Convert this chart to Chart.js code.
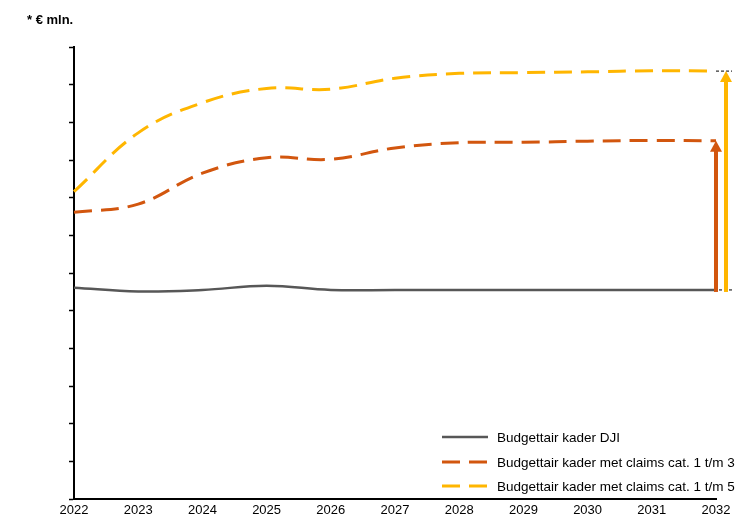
<!DOCTYPE html>
<html>
<head>
<meta charset="utf-8">
<script src="https://cdn.jsdelivr.net/npm/chart.js@4.4.1/dist/chart.umd.min.js"></script>
<style>
  html, body { margin: 0; padding: 0; background: #fff; }
  #wrap { position: relative; width: 740px; height: 516px; }
</style>
</head>
<body>
<div id="wrap"><canvas id="budgetChart" width="740" height="516"></canvas></div>
<script>
// Gegevens (* € mln., as zonder labels 0-12)
const years = ['2022', '2023', '2024', '2025', '2026', '2027', '2028', '2029', '2030', '2031', '2032'];
const kaderDJI = [5.61, 5.51, 5.55, 5.66, 5.55, 5.55, 5.55, 5.55, 5.55, 5.55, 5.55];
const kaderCat13 = [7.61, 7.83, 8.65, 9.06, 9.02, 9.32, 9.46, 9.47, 9.50, 9.52, 9.51];
const kaderCat15 = [8.16, 9.72, 10.52, 10.90, 10.88, 11.17, 11.30, 11.32, 11.34, 11.37, 11.36];
const yMin = 0;
const yMax = 12;

const seriesLabels = [
    'Budgettair kader DJI',
    'Budgettair kader met claims cat. 1 t/m 3',
    'Budgettair kader met claims cat. 1 t/m 5'
];
const colors = ['#575757', '#D2560E', '#FFB600'];
const dashes = [[], [18, 9], [18, 9]];
const FONT = '"Liberation Sans", Arial, sans-serif';

// Pijltje tekenen
function drawArrow(ctx, x, yFrom, yTo, color) {
    const head = 11;
    ctx.save();
    ctx.strokeStyle = color;
    ctx.fillStyle = color;
    ctx.lineWidth = 4;
    ctx.setLineDash([]);
    ctx.beginPath();
    ctx.moveTo(x, yFrom);
    ctx.lineTo(x, yTo + head - 1);
    ctx.stroke();
    ctx.beginPath();
    ctx.moveTo(x, yTo);
    ctx.lineTo(x - 6, yTo + head);
    ctx.lineTo(x + 6, yTo + head);
    ctx.closePath();
    ctx.fill();
    ctx.restore();
}

// Pijlen, titel en legenda
const extrasPlugin = {
    id: 'extras',
    afterDatasetsDraw(chart) {
        const ctx = chart.ctx;
        const last = years.length - 1;
        const p0 = chart.getDatasetMeta(0).data[last];
        const p1 = chart.getDatasetMeta(1).data[last];
        const p2 = chart.getDatasetMeta(2).data[last];

        // stippellijntjes als referentie
        ctx.save();
        ctx.strokeStyle = '#000';
        ctx.lineWidth = 1;
        ctx.setLineDash([3, 2]);
        ctx.beginPath();
        ctx.moveTo(p0.x, p2.y);
        ctx.lineTo(p0.x + 16, p2.y);
        ctx.moveTo(p0.x - 2, p0.y);
        ctx.lineTo(p0.x + 16, p0.y);
        ctx.stroke();
        ctx.restore();

        drawArrow(ctx, p0.x, p0.y + 2, p1.y, colors[1]);
        drawArrow(ctx, p0.x + 10, p0.y + 2, p2.y, colors[2]);
    },
    afterDraw(chart) {
        const ctx = chart.ctx;
        const area = chart.chartArea;

        // eenheid linksboven
        ctx.save();
        ctx.fillStyle = '#000';
        ctx.font = 'bold 13px ' + FONT;
        ctx.textBaseline = 'middle';
        ctx.fillText('* € mln.', 27, 20);
        ctx.restore();

        // legenda rechtsonder
        const lx = area.right - 274;
        const rowY = [437, 462, 486];
        ctx.save();
        ctx.font = '13.5px ' + FONT;
        ctx.textBaseline = 'middle';
        seriesLabels.forEach((label, i) => {
            ctx.strokeStyle = colors[i];
            ctx.lineWidth = i === 0 ? 2.5 : 3;
            ctx.setLineDash(dashes[i]);
            ctx.beginPath();
            ctx.moveTo(lx, rowY[i]);
            ctx.lineTo(lx + 46, rowY[i]);
            ctx.stroke();
            ctx.setLineDash([]);
            ctx.fillStyle = '#000';
            ctx.fillText(label, lx + 55, rowY[i] + 1);
        });
        ctx.restore();
    }
};

const ctx = document.getElementById('budgetChart').getContext('2d');
new Chart(ctx, {
    type: 'line',
    data: {
        labels: years,
        datasets: [
            {
                label: seriesLabels[0],
                data: kaderDJI,
                borderColor: colors[0],
                borderWidth: 2.5,
                tension: 0.4
            },
            {
                label: seriesLabels[1],
                data: kaderCat13,
                borderColor: colors[1],
                borderWidth: 3,
                borderDash: dashes[1],
                tension: 0.4
            },
            {
                label: seriesLabels[2],
                data: kaderCat15,
                borderColor: colors[2],
                borderWidth: 3,
                borderDash: dashes[2],
                tension: 0.4
            }
        ]
    },
    options: {
        responsive: false,
        animation: false,
        layout: {
            padding: { top: 47, right: 24, left: 0, bottom: 0 }
        },
        elements: {
            point: { radius: 0 }
        },
        plugins: {
            legend: { display: false },
            tooltip: { enabled: false }
        },
        scales: {
            x: {
                offset: false,
                grid: { display: false, drawTicks: false },
                border: { display: true, color: '#000', width: 2 },
                ticks: {
                    color: '#000',
                    font: { family: FONT, size: 13 },
                    padding: 4,
                    maxRotation: 0,
                    autoSkip: false
                },
                afterFit(scale) { scale.height = 17; }
            },
            y: {
                min: yMin,
                max: yMax,
                grid: {
                    drawOnChartArea: false,
                    drawTicks: true,
                    tickLength: 5,
                    tickColor: '#000',
                    tickWidth: 1.5
                },
                border: { display: true, color: '#000', width: 2 },
                ticks: { display: false, stepSize: 1 },
                afterFit(scale) { scale.width = 74; }
            }
        }
    },
    plugins: [extrasPlugin]
});
</script>
</body>
</html>
